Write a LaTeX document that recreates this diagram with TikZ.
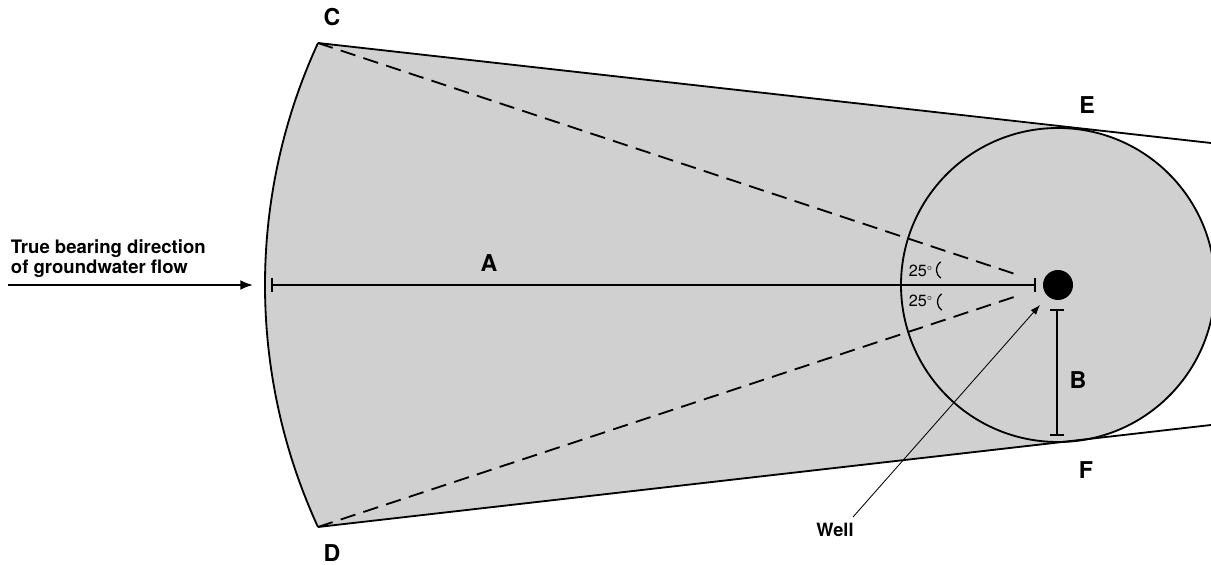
\documentclass[tikz,border=0pt]{standalone}
\usepackage{fontspec}
\setmainfont{TeX Gyre Heros}
\usetikzlibrary{arrows.meta}
\definecolor{zonegray}{HTML}{D0D0D0}

\begin{document}
\begin{tikzpicture}[x=0.025cm, y=0.025cm, line width=1.3pt]
	\tikzset{lbl/.style={font=\bfseries\fontsize{16.5}{18}\selectfont, inner sep=0pt}}
	\tikzset{ang/.style={font=\fontsize{11.5}{12}\selectfont, inner sep=0pt}}
	\tikzset{bar/.style={{Bar[width=10pt]}-{Bar[width=10pt]}}}
	\useasboundingbox (0,0) rectangle (1211,565);

	%---POINTS---
	\coordinate (C) at (318,522);
	\coordinate (D) at (318,38);
	\coordinate (E) at (1075.5,436);
	\coordinate (F) at (1075.8,124);
	\coordinate (topend) at (1211,422);
	\coordinate (botend) at (1211,140);
	\coordinate (wellc) at (1058,280);

	%---ZONE---
	\fill[zonegray] (C) arc[start angle=155.29, end angle=204.71, radius=579] -- (F) -- (E) -- cycle;
	\fill[zonegray] (wellc) circle[radius=157];

	%---NODES---
	\node[circle, fill=black, inner sep=0pt, minimum size=0.75cm] (well) at (wellc) {};
	\node[lbl] (labC) at (332,548) {C};
	\node[lbl] (labD) at (332,12) {D};
	\node[lbl] (labE) at (1087,460) {E};
	\node[lbl] (labF) at (1086,95) {F};
	\node[lbl] (labA) at (489,302) {A};
	\node[lbl] (labB) at (1078,185) {B};
	\node[anchor=north west, align=left, inner sep=0pt, font=\bfseries\fontsize{13.2}{14.2}\selectfont] (flow) at (10,326) {True bearing direction\\of groundwater flow};
	\node[inner sep=0pt, font=\bfseries\fontsize{13}{14}\selectfont] (labwell) at (835,35) {Well};
	\node[ang, anchor=base west] (ang1) at (908,288) {25$^{\scriptscriptstyle\circ}$};
	\node[ang, anchor=base west] (ang2) at (908,258) {25$^{\scriptscriptstyle\circ}$};

	\coordinate (flowstart) at (8,280);
	\coordinate (flowend) at (253,280);
	\coordinate (Aleft) at (271,280);
	\coordinate (Aright) at (1036,280);
	\coordinate (Btop) at (1057,256);
	\coordinate (Bbot) at (1057,129);
	\coordinate (dashC) at (1018,290);
	\coordinate (dashD) at (1017,269);
	\coordinate (wellfoot) at (853,48);
	\coordinate (welltip) at (1040,260);
	\coordinate (angup) at (946.5,295);
	\coordinate (angdown) at (947.5,263);

	%---EDGES---
	\draw (wellc) circle[radius=157];
	\draw (C) arc[start angle=155.29, end angle=204.71, radius=579];
	\draw (C) -- (topend);
	\draw (D) -- (botend);
	\draw[dash pattern=on 11pt off 6pt] (C) -- (dashC);
	\draw[dash pattern=on 11pt off 6pt] (D) -- (dashD);
	\draw[bar] (Aleft) -- (Aright);
	\draw[bar] (Btop) -- (Bbot);
	\draw[-{Latex[length=9pt, width=7pt]}] (flowstart) -- (flowend);
	\draw[line width=0.6pt, -{Latex[length=7pt, width=5pt]}] (wellfoot) -- (welltip);
	\draw[line width=0.9pt] ([shift={(125:10)}]angup) arc[start angle=125, end angle=235, radius=10];
	\draw[line width=0.9pt] ([shift={(125:10)}]angdown) arc[start angle=125, end angle=235, radius=10];
\end{tikzpicture}
\end{document}
